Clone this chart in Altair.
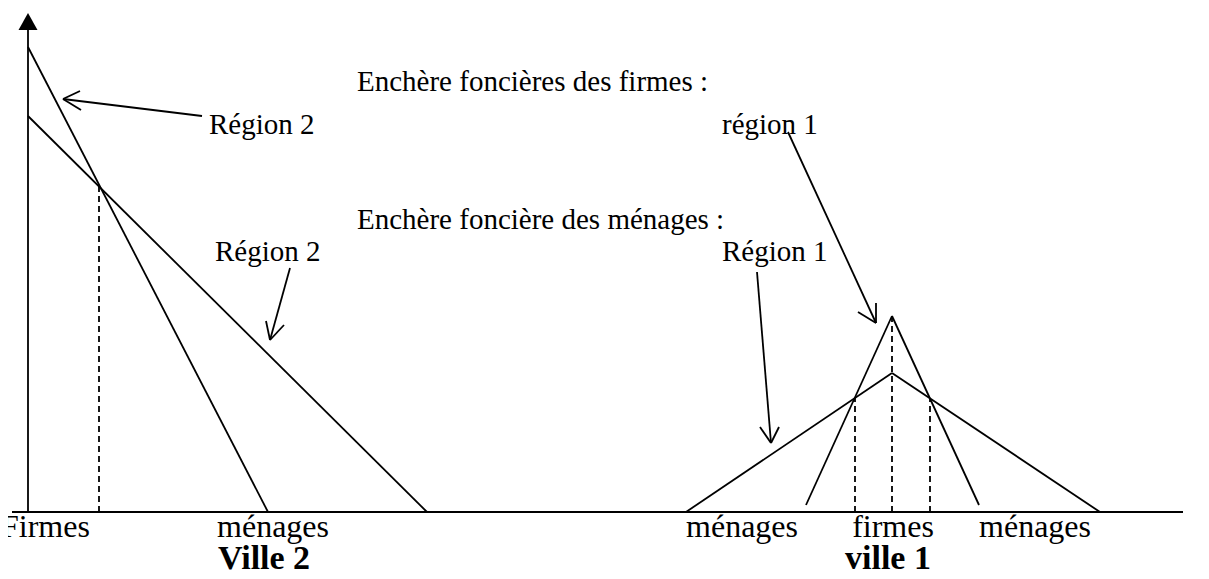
import altair as alt
import pandas as pd

# ---------------- data (x = distance from the vertical axis, y = land rent) -------------
# Ville 2 : bid-rent lines
v2_firmes_x = [0, 240]
v2_firmes_y = [465, 0]
v2_menages_x = [0, 399]
v2_menages_y = [396, 0]
v2_frontier_x = [71]
v2_frontier_top = [326]

# Ville 1 : bid-rent triangles
v1_firmes_x = [778, 864, 951]
v1_firmes_y = [7, 196, 7]
v1_menages_x = [658, 864, 1072]
v1_menages_y = [0, 139, 0]
v1_frontier_x = [827, 864, 902]
v1_frontier_top = [114, 196, 114]

# axes
yaxis_x = [0, 0]
yaxis_y = [0, 485]
xaxis_x = [-16, 1155]
xaxis_y = [0, 0]
arrowhead_x = [0]
arrowhead_y = [490.5]

# annotation arrows: shaft start, tip, two wing ends
arrow_start_x = [174, 262, 760, 729]
arrow_start_y = [396, 244, 380, 240]
arrow_tip_x = [35, 242, 848, 743]
arrow_tip_y = [413, 172, 189, 69]
arrow_w1_x = [52, 238, 830, 732]
arrow_w1_y = [421, 191, 200, 85]
arrow_w2_x = [53, 256, 848, 751]
arrow_w2_y = [402, 187, 209, 85]

# texts
top_labels = ["Enchère foncières des firmes :", "Région 2", "région 1",
              "Enchère foncière des ménages :", "Région 2", "Région 1"]
top_x = [329, 181, 694, 329, 187, 694]
top_y = [421, 378, 378, 283, 251, 251]

left_label = ["Firmes"]
left_x = [-27]
left_y = [-25]

bottom_labels = ["ménages", "ménages", "firmes", "ménages"]
bottom_x = [245, 714, 865, 1007]
bottom_y = [-25, -25, -25, -25]

city_labels = ["Ville 2", "ville 1"]
city_x = [236, 860]
city_y = [-57, -57]

# ---------------- build segment tables ---------------------------------------------
solid = []
def poly(xs, ys):
    for i in range(len(xs) - 1):
        solid.append({"x": xs[i], "y": ys[i], "x2": xs[i + 1], "y2": ys[i + 1]})

poly(v2_firmes_x, v2_firmes_y)
poly(v2_menages_x, v2_menages_y)
poly(v1_firmes_x, v1_firmes_y)
poly(v1_menages_x, v1_menages_y)
poly(yaxis_x, yaxis_y)
poly(xaxis_x, xaxis_y)
for i in range(len(arrow_start_x)):
    poly([arrow_start_x[i], arrow_tip_x[i]], [arrow_start_y[i], arrow_tip_y[i]])
    poly([arrow_w1_x[i], arrow_tip_x[i], arrow_w2_x[i]],
         [arrow_w1_y[i], arrow_tip_y[i], arrow_w2_y[i]])
solid_df = pd.DataFrame(solid)

dashed = []
for xv, top in zip(v2_frontier_x + v1_frontier_x, v2_frontier_top + v1_frontier_top):
    dashed.append({"x": xv, "y": 0, "x2": xv, "y2": top})
dashed_df = pd.DataFrame(dashed)

head_df = pd.DataFrame({"x": arrowhead_x, "y": arrowhead_y})
top_df = pd.DataFrame({"t": top_labels, "x": top_x, "y": top_y})
left_df = pd.DataFrame({"t": left_label, "x": left_x, "y": left_y})
bottom_df = pd.DataFrame({"t": bottom_labels, "x": bottom_x, "y": bottom_y})
city_df = pd.DataFrame({"t": city_labels, "x": city_x, "y": city_y})

W, H = 1193, 563
xs = alt.Scale(domain=[-20, 1173], nice=False, zero=False)
ys = alt.Scale(domain=[-59, 504], nice=False, zero=False)
X = lambda f="x": alt.X(f + ":Q", scale=xs, axis=None)
Y = lambda f="y": alt.Y(f + ":Q", scale=ys, axis=None)

FONT = "Liberation Serif"
LW = 1.8

solid_layer = alt.Chart(solid_df).mark_rule(color="black", strokeWidth=LW).encode(
    x=X(), y=Y(), x2="x2:Q", y2="y2:Q")
dashed_layer = alt.Chart(dashed_df).mark_rule(color="black", strokeWidth=LW,
                                              strokeDash=[6, 4]).encode(
    x=X(), y=Y(), x2="x2:Q", y2="y2:Q")
head_layer = alt.Chart(head_df).mark_point(
    shape="M -1 0.9 L 1 0.9 L 0 -0.9 Z", filled=True, size=361,
    color="black", opacity=1).encode(x=X(), y=Y())
top_layer = alt.Chart(top_df).mark_text(
    font=FONT, fontSize=29, align="left", baseline="alphabetic", color="black").encode(
    x=X(), y=Y(), text="t:N")
left_layer = alt.Chart(left_df).mark_text(
    font=FONT, fontSize=32, align="left", baseline="alphabetic", color="black",
    clip=True).encode(x=X(), y=Y(), text="t:N")
bottom_layer = alt.Chart(bottom_df).mark_text(
    font=FONT, fontSize=32, align="center", baseline="alphabetic", color="black").encode(
    x=X(), y=Y(), text="t:N")
city_layer = alt.Chart(city_df).mark_text(
    font=FONT, fontSize=34, fontWeight="bold", align="center", baseline="alphabetic",
    color="black").encode(x=X(), y=Y(), text="t:N")

chart = alt.layer(solid_layer, dashed_layer, head_layer, top_layer, left_layer,
                  bottom_layer, city_layer).properties(
    width=W, height=H, padding=0, background="white",
    autosize=alt.AutoSizeParams(type="none")
).configure_view(stroke=None, strokeWidth=0)

chart.save("out.html", embed_options={"renderer": "svg", "actions": False})
